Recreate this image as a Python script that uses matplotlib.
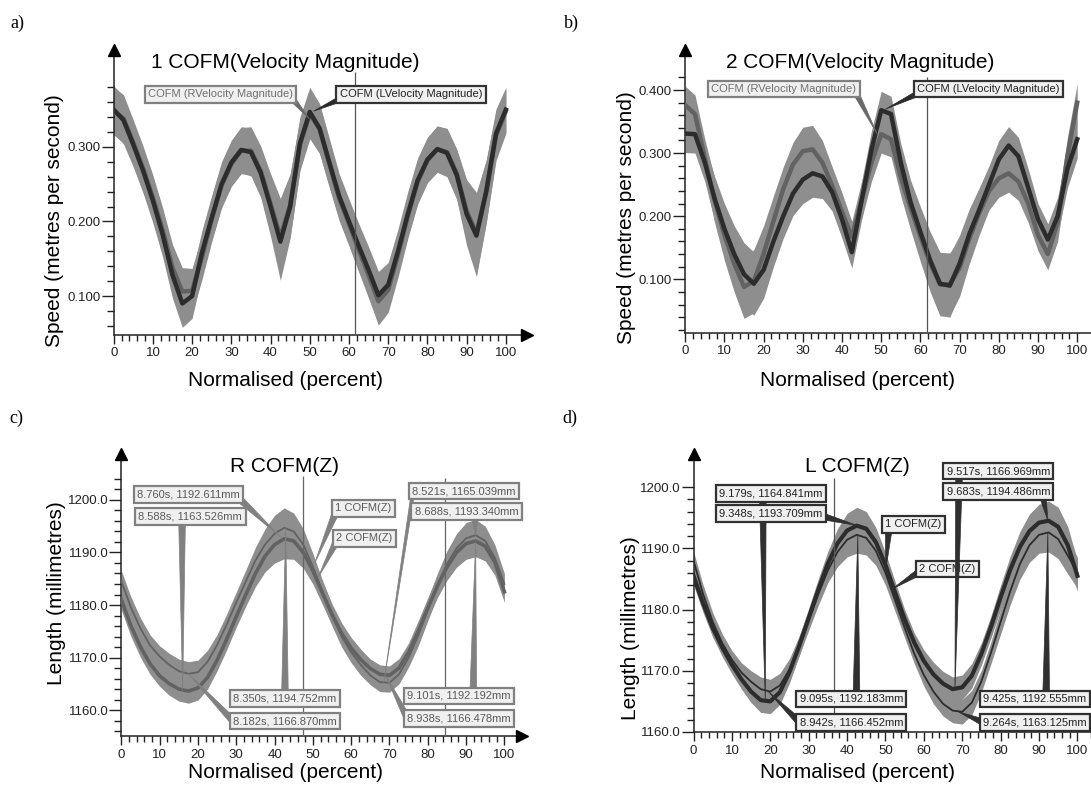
import matplotlib
matplotlib.use("Agg")
import matplotlib.pyplot as plt
from matplotlib.ticker import FixedLocator, FormatStrFormatter
import numpy as np

plt.rcParams['font.family'] = ['Liberation Sans', 'DejaVu Sans']

W, H = 1091, 792

# ---------------- data ----------------
pct = [0, 2.5, 5, 7.5, 10, 12.5, 15, 17.5, 20, 22.5, 25, 27.5, 30, 32.5, 35, 37.5, 40,
       42.5, 45, 47.5, 50, 52.5, 55, 57.5, 60, 62.5, 65, 67.5, 70, 72.5, 75, 77.5, 80,
       82.5, 85, 87.5, 90, 92.5, 95, 97.5, 100]

# panel a: 1 COFM velocity magnitude (m/s)
a_R = [0.348, 0.338, 0.306, 0.271, 0.232, 0.188, 0.138, 0.106, 0.107, 0.152, 0.203, 0.248,
       0.277, 0.295, 0.295, 0.268, 0.224, 0.179, 0.222, 0.303, 0.344, 0.324, 0.277, 0.231,
       0.197, 0.162, 0.128, 0.093, 0.108, 0.155, 0.207, 0.253, 0.282, 0.297, 0.293, 0.264,
       0.214, 0.184, 0.240, 0.315, 0.348]
a_L = [0.350, 0.336, 0.303, 0.268, 0.228, 0.182, 0.128, 0.090, 0.100, 0.158, 0.205, 0.250,
       0.279, 0.296, 0.293, 0.265, 0.220, 0.173, 0.220, 0.305, 0.347, 0.325, 0.279, 0.234,
       0.200, 0.167, 0.135, 0.101, 0.115, 0.160, 0.210, 0.255, 0.283, 0.297, 0.292, 0.262,
       0.210, 0.181, 0.240, 0.318, 0.350]
a_sd = [0.032, 0.032, 0.030, 0.030, 0.030, 0.030, 0.031, 0.032, 0.030, 0.030, 0.030, 0.030,
        0.030, 0.031, 0.032, 0.033, 0.040, 0.052, 0.042, 0.035, 0.033, 0.033, 0.032, 0.030,
        0.030, 0.030, 0.031, 0.032, 0.030, 0.030, 0.030, 0.030, 0.030, 0.031, 0.032, 0.033,
        0.042, 0.055, 0.042, 0.033, 0.030]

# panel b: 2 COFM velocity magnitude (m/s)
b_R = [0.376, 0.362, 0.292, 0.225, 0.170, 0.125, 0.088, 0.097, 0.140, 0.192, 0.243, 0.282,
       0.303, 0.306, 0.285, 0.248, 0.207, 0.167, 0.225, 0.285, 0.330, 0.322, 0.262, 0.213,
       0.168, 0.125, 0.092, 0.092, 0.118, 0.165, 0.205, 0.240, 0.260, 0.268, 0.255, 0.220,
       0.170, 0.140, 0.190, 0.295, 0.380]
b_L = [0.331, 0.330, 0.285, 0.228, 0.180, 0.140, 0.108, 0.093, 0.115, 0.160, 0.200, 0.236,
       0.258, 0.268, 0.263, 0.238, 0.195, 0.143, 0.225, 0.305, 0.368, 0.362, 0.285, 0.222,
       0.175, 0.130, 0.093, 0.090, 0.125, 0.172, 0.210, 0.250, 0.290, 0.312, 0.295, 0.245,
       0.195, 0.163, 0.200, 0.275, 0.322]
b_sd = [0.030, 0.030, 0.030, 0.035, 0.040, 0.045, 0.050, 0.050, 0.045, 0.040, 0.035, 0.035,
        0.038, 0.038, 0.035, 0.030, 0.030, 0.025, 0.030, 0.030, 0.030, 0.028, 0.030, 0.035,
        0.040, 0.045, 0.050, 0.050, 0.045, 0.040, 0.035, 0.030, 0.030, 0.030, 0.030, 0.030,
        0.025, 0.025, 0.030, 0.030, 0.030]

# panel c: R COFM(Z) (mm)
c_1 = [1184.5, 1179.5, 1175.5, 1172.3, 1170.2, 1168.6, 1167.4, 1166.9, 1167.2, 1169.2,
       1172.4, 1176.3, 1180.5, 1184.5, 1188.5, 1191.5, 1193.6, 1194.7, 1194.0, 1191.5,
       1187.3, 1182.5, 1178.0, 1174.0, 1171.0, 1168.6, 1166.6, 1165.3, 1165.2, 1166.8,
       1170.0, 1174.2, 1179.0, 1183.8, 1187.8, 1190.8, 1192.7, 1193.3, 1192.2, 1189.0, 1184.0]
c_2 = [1181.0, 1176.0, 1172.0, 1168.8, 1166.5, 1165.0, 1164.0, 1163.6, 1164.2, 1166.2,
       1169.5, 1173.5, 1177.8, 1182.0, 1186.0, 1189.3, 1191.5, 1192.6, 1192.2, 1190.0,
       1186.5, 1182.3, 1178.2, 1174.6, 1171.8, 1169.6, 1167.9, 1166.8, 1166.6, 1168.0,
       1171.0, 1175.0, 1179.4, 1183.6, 1187.2, 1190.0, 1191.7, 1192.2, 1191.2, 1188.2, 1182.5]
c_sd = [2.0, 2.0, 2.0, 2.0, 2.0, 2.2, 2.3, 2.3, 2.3, 2.2, 2.0, 2.0, 2.0, 2.2, 2.5, 3.0, 3.5,
        3.8, 3.5, 3.0, 2.5, 2.2, 2.0, 2.0, 2.0, 2.0, 1.8, 1.8, 1.8, 1.8, 1.8, 2.0, 2.0, 2.2,
        2.5, 2.8, 3.0, 3.0, 2.8, 2.5, 2.0]

# panel d: L COFM(Z) (mm)
d_1 = [1185.5, 1181.0, 1177.0, 1173.8, 1171.0, 1168.6, 1166.6, 1165.2, 1165.0, 1166.5,
       1169.8, 1174.0, 1178.6, 1183.2, 1187.5, 1190.8, 1192.9, 1193.7, 1193.2, 1191.0,
       1187.3, 1182.8, 1178.4, 1174.6, 1171.6, 1169.4, 1167.9, 1167.0, 1167.3, 1169.2,
       1172.8, 1177.2, 1182.0, 1186.5, 1190.2, 1192.8, 1194.2, 1194.5, 1193.5, 1190.5, 1185.5]
d_2 = [1188.0, 1182.5, 1178.0, 1174.5, 1171.8, 1169.7, 1168.2, 1167.0, 1166.6, 1167.6,
       1170.2, 1174.0, 1178.2, 1182.5, 1186.4, 1189.4, 1191.4, 1192.2, 1191.7, 1189.6,
       1186.0, 1181.5, 1177.0, 1172.8, 1169.3, 1166.6, 1164.6, 1163.5, 1163.3, 1164.8,
       1168.3, 1173.0, 1178.0, 1183.0, 1187.4, 1190.5, 1192.2, 1192.6, 1191.5, 1188.8, 1186.0]
d_sd = [1.5, 1.5, 1.5, 1.5, 1.5, 1.6, 1.8, 2.0, 2.0, 2.0, 1.8, 1.6, 1.6, 1.8, 2.0, 2.4, 2.8,
        3.0, 2.8, 2.4, 2.0, 1.8, 1.6, 1.6, 1.8, 2.0, 2.0, 2.0, 2.0, 2.0, 1.8, 1.8, 2.0, 2.2,
        2.5, 2.8, 3.0, 3.2, 3.2, 3.0, 2.5]

xticks_major = [0, 10, 20, 30, 40, 50, 60, 70, 80, 90, 100]
xticks_minor = list(range(0, 101, 2))
a_yticks = [0.1, 0.2, 0.3]
a_yminor = [0.06, 0.08, 0.10, 0.12, 0.14, 0.16, 0.18, 0.20, 0.22, 0.24, 0.26, 0.28, 0.30,
            0.32, 0.34, 0.36, 0.38]
b_yticks = [0.1, 0.2, 0.3, 0.4]
b_yminor = [0.02, 0.04, 0.06, 0.08, 0.10, 0.12, 0.14, 0.16, 0.18, 0.20, 0.22, 0.24, 0.26,
            0.28, 0.30, 0.32, 0.34, 0.36, 0.38, 0.40, 0.42]
c_yticks = [1160, 1170, 1180, 1190, 1200]
c_yminor = list(range(1156, 1205, 2))
d_yticks = [1160, 1170, 1180, 1190, 1200]
d_yminor = list(range(1160, 1201, 2))

titles = ["1 COFM(Velocity Magnitude)", "2 COFM(Velocity Magnitude)", "R COFM(Z)", "L COFM(Z)"]
legend_R = "COFM (RVelocity Magnitude)"
legend_L = "COFM (LVelocity Magnitude)"
c_labels = ["8.760s, 1192.611mm", "8.588s, 1163.526mm", "8.350s, 1194.752mm", "8.182s, 1166.870mm",
            "8.521s, 1165.039mm", "8.688s, 1193.340mm", "9.101s, 1192.192mm", "8.938s, 1166.478mm"]
d_labels = ["9.179s, 1164.841mm", "9.348s, 1193.709mm", "9.095s, 1192.183mm", "8.942s, 1166.452mm",
            "9.517s, 1166.969mm", "9.683s, 1194.486mm", "9.425s, 1192.555mm", "9.264s, 1163.125mm"]

# ---------------- styling ----------------
BAND = '#8e8e8e'
MID = '#626262'
DARK = '#2c2c2c'
BOXFC = '#f0f0f0'

fig = plt.figure(figsize=(W / 100, H / 100), dpi=100)


def make_ax(left, right, top, bottom, xmax, ylim, ymaj, ymin, fmt):
    ax = fig.add_axes([left / W, 1 - bottom / H, (right - left) / W, (bottom - top) / H])
    ax.set_xlim(0, xmax)
    ax.set_ylim(*ylim)
    for s in ('top', 'right'):
        ax.spines[s].set_visible(False)
    for s in ('left', 'bottom'):
        ax.spines[s].set_color('#222222')
        ax.spines[s].set_linewidth(1.1)
    ax.xaxis.set_major_locator(FixedLocator(xticks_major))
    ax.xaxis.set_minor_locator(FixedLocator(xticks_minor))
    ax.yaxis.set_major_locator(FixedLocator(ymaj))
    ax.yaxis.set_minor_locator(FixedLocator(ymin))
    ax.yaxis.set_major_formatter(FormatStrFormatter(fmt))
    ax.tick_params(axis='x', which='major', length=6.5, width=1.0, pad=2.5,
                   labelsize=9.5, colors='#222222')
    ax.tick_params(axis='x', which='minor', length=4, width=1.0, colors='#222222')
    ax.tick_params(axis='y', which='major', length=9, width=1.0, pad=0.5,
                   labelsize=9.5, colors='#222222')
    ax.tick_params(axis='y', which='minor', length=5, width=1.0, colors='#222222')
    ax.plot(0, 1, marker='^', color='black', markersize=9, transform=ax.transAxes,
            clip_on=False, zorder=10)
    ax.plot(1, 0, marker='>', color='black', markersize=9, transform=ax.transAxes,
            clip_on=False, zorder=10)
    ax.patch.set_alpha(0)
    return ax


def ftext(px, py, s, **kw):
    fig.text(px / W, 1 - py / H, s, **kw)


def band(ax, mean, sd):
    m = np.array(mean)
    s = np.array(sd)
    ax.fill_between(pct, m - s, m + s, color=BAND, lw=0, zorder=1)


def box(ax, text, xytext, xy, relpos, ec, tc, wc, tw=0.6):
    ax.annotate(text, xy=xy, xytext=xytext, ha='center', va='center', fontsize=8, color=tc,
                bbox=dict(boxstyle='square,pad=0.3', fc=BOXFC, ec=ec, lw=1.6),
                arrowprops=dict(arrowstyle='wedge,tail_width=%g' % tw, fc=wc, ec=wc, lw=0.5,
                                relpos=relpos, shrinkA=0, shrinkB=0, patchA=None),
                annotation_clip=False, zorder=8)


# ---------------- panel a ----------------
axa = make_ax(113.7, 527, 50, 335, 105.4, (0.0477, 0.430), a_yticks, a_yminor, '%.3f')
band(axa, a_R, a_sd)
band(axa, a_L, a_sd)
axa.plot(pct, a_R, color=MID, lw=3.2, zorder=3, solid_joinstyle='round')
axa.plot(pct, a_L, color=DARK, lw=3.2, zorder=4, solid_joinstyle='round')
axa.vlines(61.5, 0.0477, 0.4007, color='#555555', lw=0.9, zorder=6)
box(axa, legend_R, (27.2, 0.3705), (49.8, 0.338), (1, 0), '#808080', '#707070', '#6a6a6a', 0.5)
box(axa, legend_L, (75.8, 0.3705), (51.0, 0.348), (0, 0), '#333333', '#222222', '#2a2a2a', 0.5)

# ---------------- panel b ----------------
axb = make_ax(685.2, 1098, 50, 333, 105.3, (0.0149, 0.4634), b_yticks, b_yminor, '%.3f')
band(axb, b_R, b_sd)
band(axb, b_L, b_sd)
axb.plot(pct, b_R, color=MID, lw=3.2, zorder=3, solid_joinstyle='round')
axb.plot(pct, b_L, color=DARK, lw=3.2, zorder=4, solid_joinstyle='round')
axb.vlines(61.7, 0.0149, 0.4206, color='#555555', lw=0.9, zorder=6)
box(axb, legend_R, (25.2, 0.4016), (49.0, 0.330), (1, 0), '#808080', '#707070', '#6a6a6a', 0.5)
box(axb, legend_L, (77.3, 0.4016), (51.2, 0.370), (0, 0), '#333333', '#222222', '#2a2a2a', 0.5)

# ---------------- panel c ----------------
axc = make_ax(121.4, 522, 454, 736, 104.6, (1155.05, 1208.76), c_yticks, c_yminor, '%.1f')
band(axc, c_1, c_sd)
band(axc, c_2, c_sd)
axc.plot(pct, c_2, color=MID, lw=2.6, zorder=3, solid_joinstyle='round')
axc.plot(pct, c_1, color=MID, lw=1.3, zorder=4, solid_joinstyle='round')
axc.vlines([47.3, 84.4], 1155.05, [1204.6, 1204.2], color='#666666', lw=0.9, zorder=6)
GC, GT = '#808080', '#5a5a5a'
box(axc, c_labels[0], (17.5, 1201.1), (41.5, 1193.0), (1, 0), GC, GT, GC)
box(axc, c_labels[1], (18.0, 1196.9), (16.0, 1163.8), (0.42, 0), GC, GT, GC)
box(axc, c_labels[2], (42.7, 1162.2), (42.9, 1194.7), (0.5, 1), GC, GT, GC)
box(axc, c_labels[3], (42.7, 1157.9), (17.5, 1166.9), (0, 0.5), GC, GT, GC)
box(axc, "1 COFM(Z)", (63.2, 1198.4), (50.5, 1188.0), (0, 0), GC, GT, GC)
box(axc, "2 COFM(Z)", (63.5, 1192.7), (51.4, 1185.3), (0, 0.2), GC, GT, GC)
box(axc, c_labels[4], (89.5, 1201.7), (68.5, 1165.2), (0, 0), GC, GT, GC, 0.3)
box(axc, c_labels[5], (90.1, 1197.8), (92.5, 1193.3), (0.58, 0), GC, GT, GC)
box(axc, c_labels[6], (88.1, 1162.7), (92.5, 1192.2), (0.64, 1), GC, GT, GC)
box(axc, c_labels[7], (88.1, 1158.4), (69.0, 1166.6), (0, 0.6), GC, GT, GC)

# ---------------- panel d ----------------
axd = make_ax(693.5, 1097, 454, 732, 105.1, (1160.0, 1205.4), d_yticks, d_yminor, '%.1f')
band(axd, d_1, d_sd)
band(axd, d_2, d_sd)
axd.plot(pct, d_1, color=DARK, lw=3.0, zorder=3, solid_joinstyle='round')
axd.plot(pct, d_2, color=DARK, lw=1.3, zorder=4, solid_joinstyle='round')
axd.vlines(36.5, 1160.0, 1201.5, color='#555555', lw=0.9, zorder=6)
DC, DT = '#303030', '#222222'
box(axd, d_labels[0], (20.2, 1199.0), (18.7, 1164.9), (0.42, 0), DC, DT, DC)
box(axd, d_labels[1], (20.2, 1195.7), (42.8, 1193.7), (1, 0.2), DC, DT, DC)
box(axd, "1 COFM(Z)", (57.3, 1193.9), (50.1, 1186.6), (0.06, 0), DC, DT, DC)
box(axd, "2 COFM(Z)", (66.1, 1186.6), (51.9, 1183.4), (0, 0.2), DC, DT, DC)
box(axd, d_labels[4], (79.4, 1202.6), (68.1, 1167.0), (0.12, 0), DC, DT, DC)
box(axd, d_labels[5], (79.4, 1199.3), (92.3, 1194.5), (0.93, 0), DC, DT, DC)
box(axd, d_labels[2], (41.1, 1165.4), (42.8, 1192.2), (0.55, 1), DC, DT, DC)
box(axd, d_labels[3], (41.1, 1161.6), (19.5, 1166.6), (0, 0.5), DC, DT, DC)
box(axd, d_labels[6], (88.9, 1165.4), (92.3, 1192.6), (0.61, 1), DC, DT, DC)
box(axd, d_labels[7], (88.9, 1161.6), (69.0, 1163.3), (0, 0.5), DC, DT, DC)

# ---------------- texts ----------------
LFS = 15
ftext(285, 63, titles[0], ha='center', va='center', fontsize=LFS)
ftext(860, 63, titles[1], ha='center', va='center', fontsize=LFS)
ftext(285, 467, titles[2], ha='center', va='center', fontsize=LFS)
ftext(857, 467, titles[3], ha='center', va='center', fontsize=LFS)
ftext(55, 221, "Speed (metres per second)", ha='center', va='center', rotation=90, fontsize=LFS)
ftext(627, 218, "Speed (metres per second)", ha='center', va='center', rotation=90, fontsize=LFS)
ftext(56, 593, "Length (millimetres)", ha='center', va='center', rotation=90, fontsize=LFS)
ftext(630, 628, "Length (millimetres)", ha='center', va='center', rotation=90, fontsize=LFS)
for px, py in [(285, 380), (858, 380), (285, 773), (858, 773)]:
    ftext(px, py, "Normalised (percent)", ha='center', va='center', fontsize=LFS)
for px, py, s in [(10, 23, 'a)'), (564, 23, 'b)'), (9, 418, 'c)'), (562, 418, 'd)')]:
    ftext(px, py, s, ha='left', va='center', fontsize=13, family='Liberation Serif')

fig.savefig('out.png', dpi=100, facecolor='white')
